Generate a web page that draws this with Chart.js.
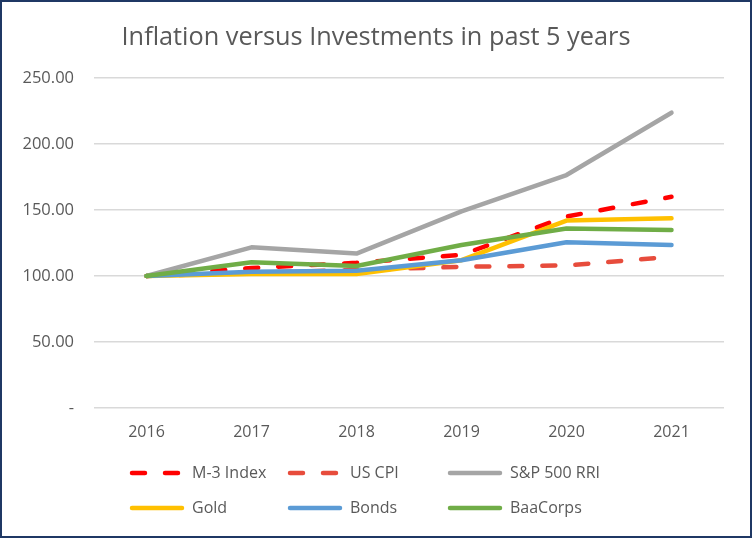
<!DOCTYPE html>
<html>
<head>
<meta charset="utf-8">
<script src="https://cdn.jsdelivr.net/npm/chart.js@4.4.1/dist/chart.umd.min.js"></script>
<style>
	html, body { margin: 0; padding: 0; background: #fff; }
	#wrap {
		width: 752px;
		height: 538px;
		box-sizing: border-box;
		border: 2px solid #1f3864;
		background: #fff;
	}
</style>
</head>
<body>
<div id="wrap">
	<canvas id="inflChart" width="748" height="534"></canvas>
</div>
<script>
// data
var years = ["2016", "2017", "2018", "2019", "2020", "2021"];
var m3Index = [100, 106, 110, 116, 145, 160];
var usCpi = [100, 102.5, 104.5, 107, 108, 114.6];
var sp500 = [100, 121.7, 117, 149, 176.5, 223.7];
var gold = [100, 101.5, 101.5, 112, 142, 143.7];
var bonds = [100, 103.3, 104, 112, 125.5, 123.5];
var baaCorps = [100, 110.4, 107.6, 123.5, 136, 134.8];

var chartTitle = "Inflation versus Investments in past 5 years";
var textColor = "#595959";
var fontFamily = "'Open Sans', sans-serif";

// title centred on the whole canvas (not just the plot), like Excel
var wideTitle = {
	id: "wideTitle",
	afterDraw: function (chart) {
		var ctx = chart.ctx;
		ctx.save();
		ctx.fillStyle = textColor;
		ctx.font = "25.3px " + fontFamily;
		ctx.textAlign = "center";
		ctx.textBaseline = "middle";
		ctx.fillText(chartTitle, chart.width / 2, 36);
		ctx.restore();
	},
};

// legend drawn as a fixed 3x2 grid like the Excel one
var gridLegend = {
	id: "gridLegend",
	afterDraw: function (chart) {
		var ctx = chart.ctx;
		var cols = [128, 286, 446];
		var rows = [471, 506];
		chart.data.datasets.forEach(function (ds, i) {
			var x = cols[i % 3];
			var y = rows[Math.floor(i / 3)];
			ctx.save();
			ctx.strokeStyle = ds.borderColor;
			ctx.lineWidth = ds.borderWidth;
			ctx.lineCap = "round";
			ctx.setLineDash(ds.borderDash || []);
			ctx.beginPath();
			ctx.moveTo(x + 2, y);
			ctx.lineTo(x + 52, y);
			ctx.stroke();
			ctx.setLineDash([]);
			ctx.fillStyle = textColor;
			ctx.font = "16px " + fontFamily;
			ctx.textBaseline = "middle";
			ctx.textAlign = "left";
			ctx.fillText(ds.label, x + 62, y);
			ctx.restore();
		});
	},
};

function line(label, data, color, dash, order) {
	return {
		label: label,
		data: data,
		borderColor: color,
		backgroundColor: color,
		borderWidth: 4.5,
		borderDash: dash,
		borderCapStyle: "round",
		borderJoinStyle: "round",
		pointRadius: 0,
		tension: 0,
		fill: false,
		order: order,
	};
}

var chart = new Chart(document.getElementById("inflChart"), {
	type: "line",
	data: {
		labels: years,
		datasets: [
			line("M-3 Index", m3Index, "#ff0000", [13, 20], 6),
			line("US CPI", usCpi, "#e74c3c", [13, 20], 5),
			line("S&P 500 RRI", sp500, "#a5a5a5", [], 4),
			line("Gold", gold, "#ffc000", [], 3),
			line("Bonds", bonds, "#5b9bd5", [], 2),
			line("BaaCorps", baaCorps, "#70ad47", [], 1),
		],
	},
	options: {
		responsive: false,
		animation: false,
		layout: { padding: { left: 0, right: 26, top: 76, bottom: 90 } },
		plugins: {
			legend: { display: false },
			tooltip: { enabled: false },
			title: { display: false },
		},
		scales: {
			x: {
				offset: true,
				grid: { display: false, drawTicks: false },
				border: { display: false },
				ticks: {
					color: textColor,
					font: { family: fontFamily, size: 16 },
					padding: 15,
				},
				afterFit: function (scale) {
					scale.height = 38;
				},
			},
			y: {
				min: 0,
				max: 250,
				grid: { color: "#d9d9d9", lineWidth: 1.5, drawTicks: false },
				border: { display: false },
				ticks: {
					stepSize: 50,
					color: textColor,
					font: { family: fontFamily, size: 16.5 },
					padding: 20,
					callback: function (v) {
						return v === 0 ? "-" : v.toFixed(2);
					},
				},
				afterFit: function (scale) {
					scale.width = 92;
				},
			},
		},
	},
	plugins: [wideTitle, gridLegend],
});
</script>
</body>
</html>
